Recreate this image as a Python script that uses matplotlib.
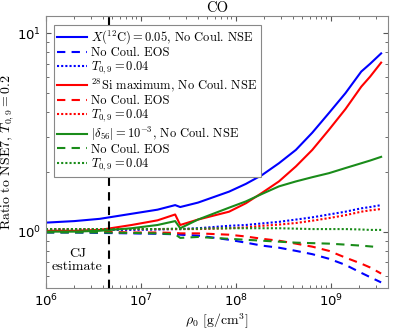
import numpy as np
import matplotlib
matplotlib.use("Agg")
import matplotlib.pyplot as plt

plt.rcParams["mathtext.fontset"] = "cm"
plt.rcParams["font.family"] = "serif"
plt.rcParams["font.serif"] = ["cmr10", "DejaVu Serif"]
plt.rcParams["axes.formatter.use_mathtext"] = True

# density grid (g/cm^3) shared by most series
rho = [1e6, 2e6, 3.7e6, 8e6, 1.5e7, 2.3e7, 2.6e7, 4e7, 8.5e7, 1.28e8, 1.9e8, 2.85e8,
       4.3e8, 6.4e8, 9.6e8, 1.43e9, 2.1e9, 2.6e9, 3.4e9]

c12_nse = [1.11, 1.13, 1.16, 1.23, 1.29, 1.36, 1.33, 1.40, 1.59, 1.74, 1.93, 2.21,
           2.58, 3.15, 3.96, 4.98, 6.4, 7.0, 7.9]
c12_eos = [0.99, 0.99, 0.985, 0.98, 0.975, 0.97, 0.965, 0.955, 0.91, 0.88, 0.85, 0.83,
           0.80, 0.77, 0.73, 0.68, 0.62, 0.59, 0.555]
c12_t04 = [1.02, 1.02, 1.02, 1.02, 1.025, 1.03, 1.03, 1.04, 1.07, 1.08, 1.10, 1.12,
           1.15, 1.18, 1.22, 1.26, 1.31, 1.33, 1.36]

si_nse = [1.01, 1.01, 1.02, 1.08, 1.14, 1.22, 1.08, 1.15, 1.26, 1.39, 1.57, 1.79,
          2.13, 2.58, 3.26, 4.14, 5.37, 6.03, 7.1]
si_eos = [1.0, 1.0, 1.0, 0.99, 0.99, 0.985, 0.98, 0.98, 0.965, 0.945, 0.92, 0.90,
          0.87, 0.84, 0.80, 0.74, 0.69, 0.66, 0.615]
si_t04 = [1.03, 1.03, 1.03, 1.03, 1.03, 1.03, 1.03, 1.03, 1.04, 1.05, 1.07, 1.085,
          1.105, 1.135, 1.17, 1.21, 1.26, 1.28, 1.30]

d56_nse = [1.0, 1.0, 1.01, 1.04, 1.08, 1.13, 1.04, 1.15, 1.32, 1.42, 1.55, 1.69,
           1.79, 1.88, 1.97, 2.09, 2.21, 2.28, 2.38]
d56_t04 = [1.03, 1.03, 1.03, 1.03, 1.03, 1.035, 1.03, 1.035, 1.04, 1.04, 1.04, 1.04,
           1.035, 1.03, 1.03, 1.03, 1.025, 1.02, 1.02]
d56e_rho = [1e6, 2e6, 3.7e6, 8e6, 1.5e7, 2.3e7, 2.6e7, 4e7, 8.5e7, 1.28e8, 1.9e8, 2.85e8,
            4.3e8, 6.4e8, 9.6e8, 1.43e9, 2.1e9, 2.8e9]
d56_eos = [0.99, 0.99, 0.99, 0.985, 0.98, 0.97, 0.93, 0.94, 0.92, 0.91, 0.90, 0.89,
           0.88, 0.875, 0.87, 0.86, 0.85, 0.84]

rho_cj = 4.6e6

BLUE, RED, GREEN = "#0000ff", "#ff0000", "#1a8c1a"

fig = plt.figure(figsize=(3.99, 3.32), dpi=100)
ax = fig.add_axes([0.115, 0.1325, 0.857, 0.8195])

lw = 1.5
dash, dot = (0, (4, 3)), (0, (1, 1))
ax.plot(rho, c12_nse, color=BLUE, lw=lw, label=r"$X(^{12}\mathrm{C}) = 0.05$, No Coul. NSE")
ax.plot(rho, c12_eos, color=BLUE, lw=lw, ls=dash, label="No Coul. EOS")
ax.plot(rho, c12_t04, color=BLUE, lw=lw, ls=dot, label=r"$T_{0,9} = 0.04$")
ax.plot(rho, si_nse, color=RED, lw=lw, label=r"$^{28}$Si maximum, No Coul. NSE")
ax.plot(rho, si_eos, color=RED, lw=lw, ls=dash, label="No Coul. EOS")
ax.plot(rho, si_t04, color=RED, lw=lw, ls=dot, label=r"$T_{0,9} = 0.04$")
ax.plot(rho, d56_nse, color=GREEN, lw=lw, label=r"$|\delta_{56}| = 10^{-3}$, No Coul. NSE")
ax.plot(d56e_rho, d56_eos, color=GREEN, lw=lw, ls=dash, label="No Coul. EOS")
ax.plot(rho, d56_t04, color=GREEN, lw=lw, ls=dot, label=r"$T_{0,9} = 0.04$")

ax.axvline(rho_cj, color="black", lw=1.5, ls=dash)
ax.text(2.15e6, 0.715, "CJ\nestimate", ha="center", va="center", fontsize=10, linespacing=1.15)

ax.set_xscale("log")
ax.set_yscale("log")
ax.set_xlim(1e6, 4e9)
ax.set_ylim(0.52, 12.2)
ax.tick_params(which="both", direction="in", top=True, right=True, color="#555555")
ax.tick_params(axis="both", labelsize=9.5, pad=3.5)
for lab in ax.get_xticklabels() + ax.get_yticklabels():
    lab.set_family("DejaVu Sans")
for sp in ax.spines.values():
    sp.set_color("#888888")

ax.set_title("CO", fontsize=10.5, pad=3)
ax.set_xlabel(r"$\rho_0$ [g/cm$^3$]", fontsize=10)
ax.set_ylabel(r"Ratio to NSE7, $T_{0,9} = 0.2$", fontsize=10)
ax.xaxis.set_label_coords(0.5, -0.088)
ax.yaxis.set_label_coords(-0.088, 0.5)

leg = ax.legend(loc="upper left", fontsize=9, handlelength=2.4, handletextpad=0.3,
                labelspacing=0.05, borderpad=0.3, borderaxespad=0, fancybox=False,
                framealpha=1, bbox_to_anchor=(0.023, 0.967))
leg.get_frame().set_edgecolor("#888888")
leg.get_frame().set_linewidth(0.8)

fig.savefig("out.png", dpi=100)
